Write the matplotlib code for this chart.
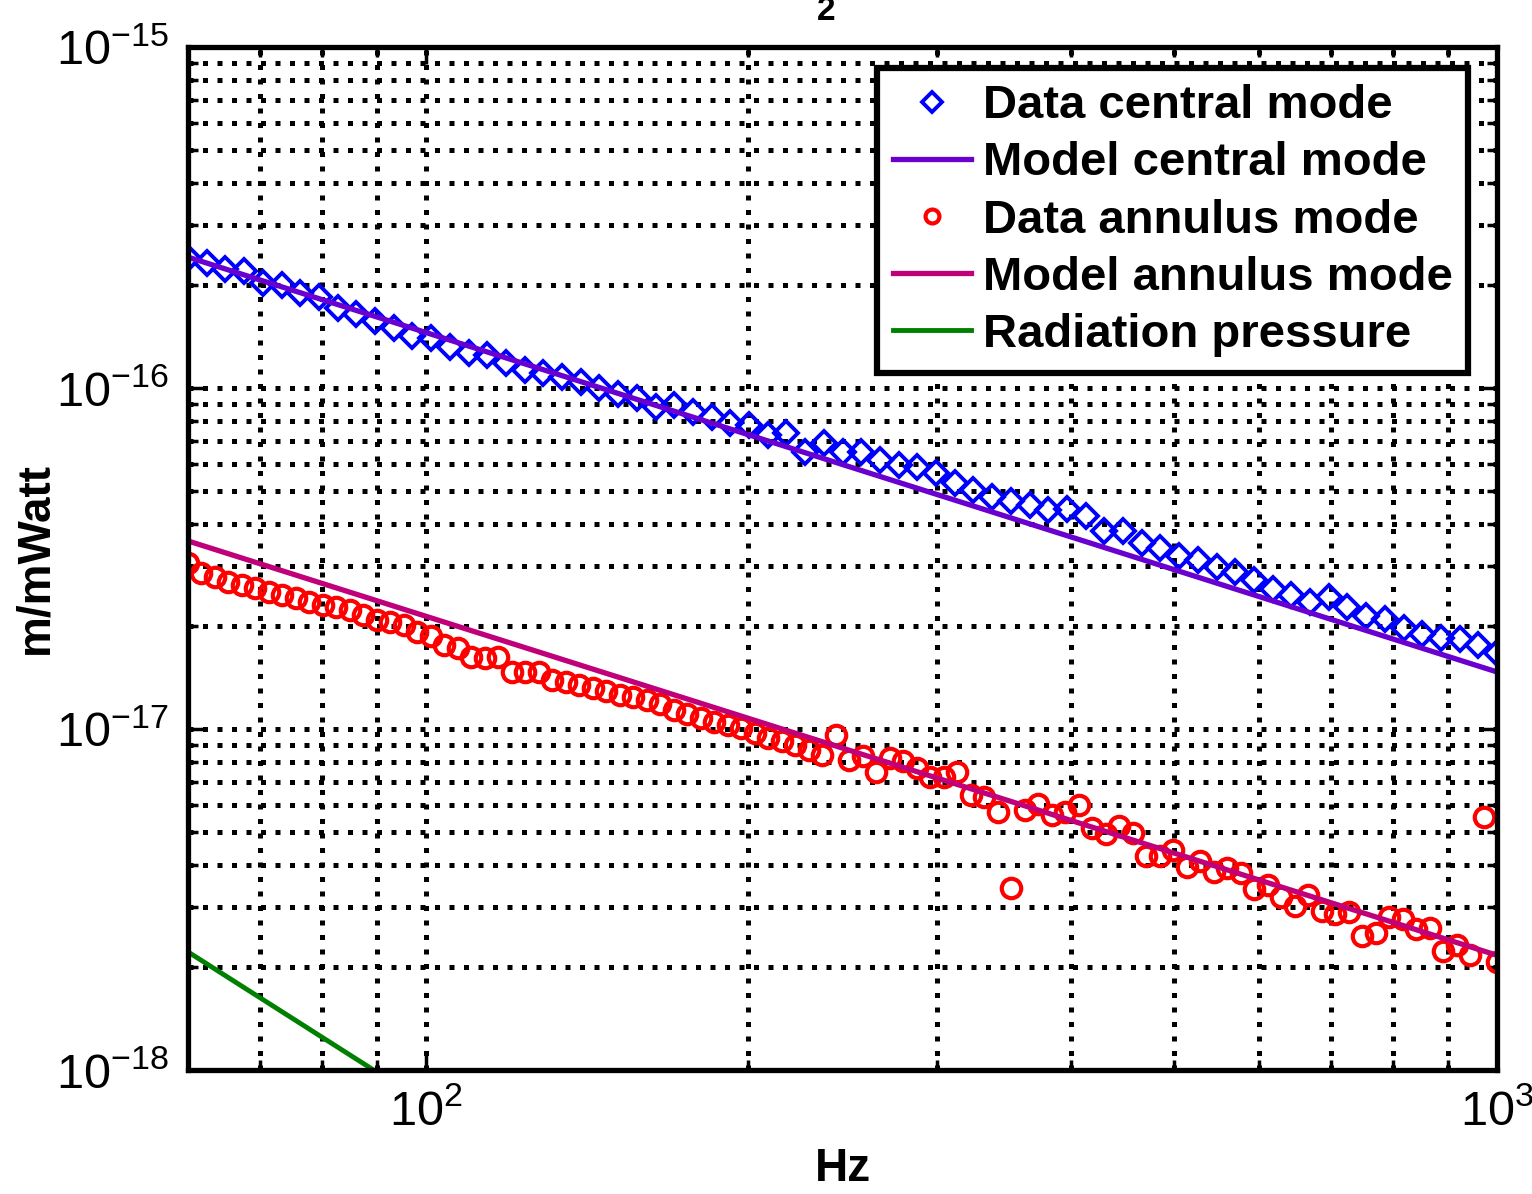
import numpy as np
import matplotlib
matplotlib.use('Agg')
import matplotlib.pyplot as plt
from matplotlib.ticker import LogLocator, NullFormatter

plt.rcParams['font.family'] = ['Liberation Sans', 'DejaVu Sans']
plt.rcParams['mathtext.fontset'] = 'custom'
plt.rcParams['mathtext.rm'] = 'Liberation Sans'
plt.rcParams['mathtext.default'] = 'regular'

# data (m/mWatt vs Hz)
central_data = [2.41e-16, 2.33e-16, 2.23e-16, 2.20e-16, 2.03e-16, 2.00e-16, 1.90e-16, 1.85e-16,
                1.72e-16, 1.65e-16, 1.57e-16, 1.50e-16, 1.42e-16, 1.40e-16, 1.32e-16, 1.27e-16,
                1.25e-16, 1.18e-16, 1.13e-16, 1.11e-16, 1.08e-16, 1.04e-16, 1.00e-16, 9.60e-17,
                9.35e-17, 8.80e-17, 8.92e-17, 8.50e-17, 8.22e-17, 7.90e-17, 7.79e-17, 7.28e-17,
                7.38e-17, 6.49e-17, 6.90e-17, 6.49e-17, 6.49e-17, 6.15e-17, 5.95e-17, 5.87e-17,
                5.63e-17, 5.27e-17, 5.02e-17, 4.79e-17, 4.66e-17, 4.54e-17, 4.39e-17, 4.42e-17,
                4.21e-17, 3.81e-17, 3.81e-17, 3.51e-17, 3.40e-17, 3.22e-17, 3.13e-17, 2.99e-17,
                2.89e-17, 2.74e-17, 2.57e-17, 2.47e-17, 2.36e-17, 2.44e-17, 2.28e-17, 2.14e-17,
                2.10e-17, 1.98e-17, 1.90e-17, 1.85e-17, 1.84e-17, 1.76e-17, 1.67e-17]

annulus_data = [3.07e-17, 2.87e-17, 2.79e-17, 2.70e-17, 2.64e-17, 2.59e-17, 2.52e-17, 2.47e-17,
                2.42e-17, 2.36e-17, 2.31e-17, 2.28e-17, 2.23e-17, 2.16e-17, 2.09e-17, 2.06e-17,
                2.02e-17, 1.93e-17, 1.87e-17, 1.76e-17, 1.73e-17, 1.63e-17, 1.62e-17, 1.63e-17,
                1.47e-17, 1.47e-17, 1.47e-17, 1.39e-17, 1.37e-17, 1.35e-17, 1.32e-17, 1.29e-17,
                1.26e-17, 1.24e-17, 1.22e-17, 1.18e-17, 1.14e-17, 1.11e-17, 1.08e-17, 1.05e-17,
                1.03e-17, 1.01e-17, 9.73e-18, 9.41e-18, 9.22e-18, 8.98e-18, 8.68e-18, 8.39e-18,
                9.60e-18, 8.11e-18, 8.33e-18, 7.48e-18, 8.22e-18, 8.06e-18, 7.69e-18, 7.23e-18,
                7.23e-18, 7.48e-18, 6.41e-18, 6.32e-18, 5.71e-18, 3.42e-18, 5.79e-18, 6.03e-18,
                5.60e-18, 5.71e-18, 5.98e-18, 5.13e-18, 4.92e-18, 5.19e-18, 4.95e-18, 4.24e-18,
                4.24e-18, 4.42e-18, 3.94e-18, 4.10e-18, 3.81e-18, 3.91e-18, 3.78e-18, 3.40e-18,
                3.49e-18, 3.22e-18, 3.03e-18, 3.26e-18, 2.93e-18, 2.87e-18, 2.91e-18, 2.47e-18,
                2.52e-18, 2.81e-18, 2.77e-18, 2.59e-18, 2.61e-18, 2.23e-18, 2.33e-18, 2.17e-18,
                5.52e-18, 2.07e-18]

# frequency grids of the two measurements (log spaced 60 Hz .. 1 kHz)
f_central = np.geomspace(60, 1000, len(central_data))
f_annulus = np.geomspace(60, 1000, len(annulus_data))

model_freq = [60, 1000]
model_central = [2.42e-16, 1.47e-17]
model_annulus = [3.56e-17, 2.17e-18]
rad_pressure = [2.22e-18, 8.0e-21]

fig = plt.figure(figsize=(15.32, 11.94), dpi=100)
ax = fig.add_axes([188/1532, 124/1194, 1309/1532, 1023/1194])

ax.loglog(f_central, central_data, 'D', color='#0000ff', mfc='none', ms=12, mew=2.8,
          label='Data central mode')
ax.loglog(model_freq, model_central, '-', color='#6a00d0', lw=3.8, label='Model central mode')
ax.loglog(f_annulus, annulus_data, 'o', color='#ff0000', mfc='none', ms=14, mew=3.0,
          label='Data annulus mode')
ax.loglog(model_freq, model_annulus, '-', color='#c0007a', lw=3.8, label='Model annulus mode')
ax.loglog(model_freq, rad_pressure, '-', color='#008000', lw=3.5, label='Radiation pressure')

ax.set_xlim(60, 1000)
ax.set_ylim(1e-18, 1e-15)

ax.xaxis.set_major_locator(LogLocator(base=10, numticks=10))
ax.xaxis.set_minor_locator(LogLocator(base=10, subs=np.arange(2, 10), numticks=20))
ax.xaxis.set_minor_formatter(NullFormatter())
ax.yaxis.set_major_locator(LogLocator(base=10, numticks=10))
ax.yaxis.set_minor_locator(LogLocator(base=10, subs=np.arange(2, 10), numticks=20))
ax.yaxis.set_minor_formatter(NullFormatter())

ax.grid(True, which='both', color='black', linestyle=(0, (1, 1.9)), linewidth=3.6)
ax.set_axisbelow(True)

for s in ax.spines.values():
    s.set_linewidth(3.8)
ax.tick_params(which='both', direction='in', top=True, right=True, width=2.5)
ax.tick_params(which='major', length=12, labelsize=35, pad=14)
ax.tick_params(which='minor', length=7)

ax.set_xlabel('Hz', fontsize=33, fontweight='bold', labelpad=8)
ax.set_ylabel('m/mWatt', fontsize=33, fontweight='bold')
ax.yaxis.set_label_coords(-0.100, 0.5)

leg = ax.legend(loc='upper right', bbox_to_anchor=(0.978, 0.979), borderaxespad=0,
                fancybox=False, edgecolor='black', framealpha=1,
                prop={'size': 34, 'weight': 'bold'}, handlelength=1.65,
                handletextpad=0.25, labelspacing=0.28, borderpad=0.33, numpoints=1)
leg.get_frame().set_linewidth(4.5)
for h in leg.legend_handles:
    if h.get_marker() in ('D', 'o'):
        h.set_markersize(10)

# the title is cut off at the top of the picture, only its subscript shows
fig.text(826/1532, 1 - 12/1194, '2', fontsize=24, fontweight='bold', ha='center', va='center')

fig.savefig('out.png', dpi=100)
